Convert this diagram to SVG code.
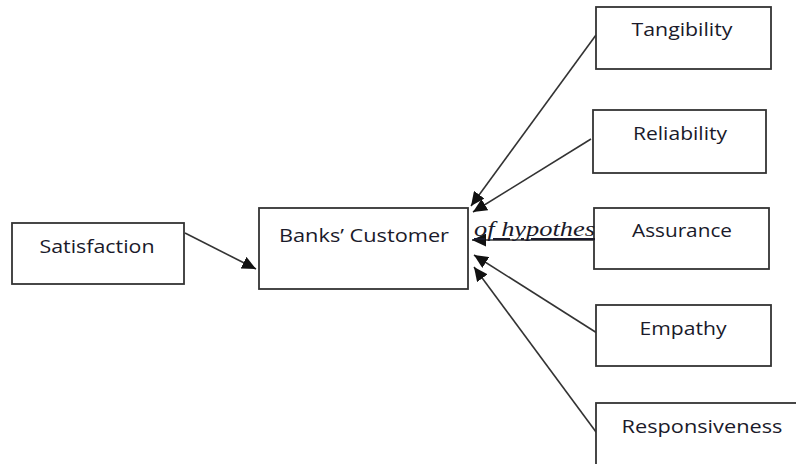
<svg xmlns="http://www.w3.org/2000/svg" width="796" height="464" viewBox="0 0 796 464">
  <defs>
    <marker id="arrow" markerUnits="userSpaceOnUse" markerWidth="15" markerHeight="13" refX="14" refY="6.5" orient="auto">
      <path d="M0,0 L14,6.5 L0,13 z" fill="#111"/>
    </marker>
    <style>
      .box { fill: #fff; stroke: #333; stroke-width: 1.8; }
      .lbl { font-family: "Open Sans", "Liberation Sans", Arial, sans-serif; font-size: 19px; fill: #1a1a2a; text-anchor: middle; }
      .conn { stroke: #333; stroke-width: 1.6; fill: none; marker-end: url(#arrow); }
      .note { font-family: "Liberation Serif", "Times New Roman", serif; font-style: italic; font-size: 21px; fill: #1a1a2a; text-decoration: underline; }
    </style>
  </defs>
  <rect width="796" height="464" fill="#fff"/>

  <g id="connectors">
    <line class="conn" x1="185" y1="233" x2="256" y2="269"/>
    <line class="conn" x1="596" y1="35" x2="471" y2="206"/>
    <line class="conn" x1="591" y1="139" x2="473" y2="212"/>
    <line class="conn" x1="594" y1="240" x2="472" y2="240"/>
    <line class="conn" x1="597" y1="333" x2="474" y2="255"/>
    <line class="conn" x1="599" y1="436" x2="474" y2="267"/>
  </g>

  <g id="satisfaction">
    <rect class="box" x="12" y="223" width="172" height="61"/>
    <text class="lbl" x="97" y="253" textLength="115" lengthAdjust="spacingAndGlyphs">Satisfaction</text>
  </g>

  <g id="banks-customer">
    <rect class="box" x="259" y="208" width="209" height="81"/>
    <text class="lbl" x="364" y="242" textLength="170" lengthAdjust="spacingAndGlyphs">Banks’ Customer</text>
  </g>

  <g id="tangibility">
    <rect class="box" x="596" y="7" width="175" height="62"/>
    <text class="lbl" x="682" y="36" textLength="101" lengthAdjust="spacingAndGlyphs">Tangibility</text>
  </g>

  <g id="reliability">
    <rect class="box" x="593" y="110" width="173" height="63"/>
    <text class="lbl" x="680" y="140" textLength="94" lengthAdjust="spacingAndGlyphs">Reliability</text>
  </g>

  <g id="assurance">
    <rect class="box" x="594" y="208" width="175" height="61"/>
    <text class="lbl" x="682" y="237" textLength="100" lengthAdjust="spacingAndGlyphs">Assurance</text>
  </g>

  <g id="empathy">
    <rect class="box" x="596" y="305" width="175" height="61"/>
    <text class="lbl" x="683" y="335" textLength="87" lengthAdjust="spacingAndGlyphs">Empathy</text>
  </g>

  <g id="responsiveness">
    <rect class="box" x="596" y="403" width="210" height="70"/>
    <text class="lbl" x="702" y="433" textLength="161" lengthAdjust="spacingAndGlyphs">Responsiveness</text>
  </g>

  <text class="note" x="474" y="236" textLength="121" lengthAdjust="spacingAndGlyphs">of hypothes</text>
</svg>
